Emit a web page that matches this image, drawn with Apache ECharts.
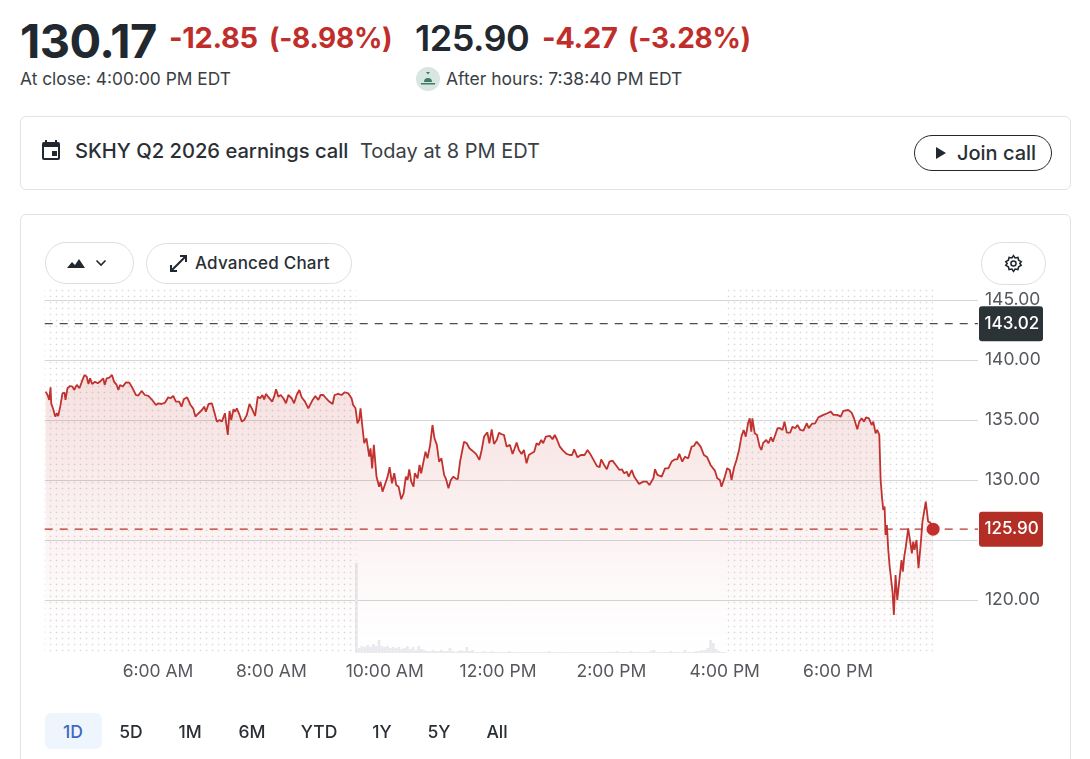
<!DOCTYPE html>
<html><head><meta charset="utf-8">
<style>
html,body{margin:0;padding:0;background:#fff;width:1090px;height:759px;overflow:hidden;font-family:Inter,"Noto Sans",sans-serif;color:#22282f}
.a{position:absolute;white-space:nowrap;line-height:1}
.card{position:absolute;border:1px solid #e3e3e3;border-radius:6px;box-sizing:border-box;background:#fff}
.pill{position:absolute;border:1px solid #dedede;border-radius:22px;box-sizing:border-box;background:#fff}
.red{color:#bf2e2b;font-weight:700;top:23px;font-size:29px;letter-spacing:-.3px}
.par{font-size:28px;top:24px}
#chart{position:absolute;left:0;top:0;width:1090px;height:759px}
.rng{font-size:17.5px;font-weight:500;top:723px;transform:translateX(-50%);color:#2a2f36}
</style>
<script src="https://cdn.jsdelivr.net/npm/echarts@6/dist/echarts.min.js"></script>
</head><body>
<div class="a" style="left:20px;top:17px;font-size:47px;font-weight:700;letter-spacing:-.55px">130.17</div>
<div class="a red" style="left:169px">-12.85</div>
<div class="a red par" style="left:269px">(-8.98%)</div>
<div class="a" style="left:415px;top:20px;font-size:36px;font-weight:600;letter-spacing:-.5px">125.90</div>
<div class="a red" style="left:542px">-4.27</div>
<div class="a red par" style="left:628px">(-3.28%)</div>
<div class="a" style="left:20px;top:70px;font-size:17.35px;color:#3a3f46">At close: 4:00:00 PM EDT</div>
<svg class="a" style="left:416px;top:67px" width="24" height="24" viewBox="0 0 24 24"><circle cx="12" cy="12" r="12" fill="#d8e6e1"/><path d="M5 16h14v1.6H5zM8 15a4 4 0 0 1 8 0z" fill="#3e7a66"/><path d="M10 5h4l-2 2.5z" fill="#3e7a66"/></svg>
<div class="a" style="left:446px;top:70px;font-size:17.5px;color:#3a3f46">After hours: 7:38:40 PM EDT</div>

<div class="card" style="left:20px;top:116px;width:1051px;height:74px"></div>
<svg class="a" style="left:39px;top:138px" width="24" height="24" viewBox="0 0 24 24"><path fill="#22282f" d="M19 4h-1V2h-2v2H8V2H6v2H5a2 2 0 0 0-2 2v14a2 2 0 0 0 2 2h14a2 2 0 0 0 2-2V6a2 2 0 0 0-2-2zm0 16H5V9h14zM13 13h5v5h-5z"/></svg>
<div class="a" style="left:75px;top:141px;font-size:20.15px;font-weight:500;color:#2a2f36">SKHY Q2 2026 earnings call</div>
<div class="a" style="left:360px;top:141px;font-size:20px;color:#3a3f46">Today at 8 PM EDT</div>
<div class="pill" style="left:914px;top:135px;width:138px;height:36px;border-color:#22282f"></div>
<svg class="a" style="left:935px;top:146px" width="12" height="14" viewBox="0 0 12 14"><path d="M1 1l10 6-10 6z" fill="#22282f"/></svg>
<div class="a" style="left:957px;top:143px;font-size:20px;font-weight:500;color:#2a2f36">Join call</div>

<div class="card" style="left:20px;top:214px;width:1051px;height:600px"></div>
<div id="chart"></div>
<div class="pill" style="left:45px;top:242px;width:89px;height:42px"></div>
<svg class="a" style="left:66px;top:256px" width="20" height="14" viewBox="0 0 20 14"><path d="M1 12l5-6 3 3 4-6 6 9z" fill="#22282f"/></svg>
<svg class="a" style="left:95px;top:259px" width="12" height="8" viewBox="0 0 12 8"><path d="M1.5 1.5L6 6l4.5-4.5" fill="none" stroke="#22282f" stroke-width="1.6"/></svg>
<div class="pill" style="left:146px;top:243px;width:206px;height:41px"></div>
<svg class="a" style="left:169px;top:254px" width="19" height="19" viewBox="0 0 19 19"><path d="M11 2h6v6M17 2L2 17M2 11v6h6" fill="none" stroke="#22282f" stroke-width="2"/></svg>
<div class="a" style="left:195px;top:255px;font-size:17px;font-weight:500;letter-spacing:.2px;color:#2a2f36">Advanced Chart</div>
<div class="pill" style="left:981px;top:242px;width:65px;height:43px"></div>
<svg class="a" style="left:1004px;top:254px" width="19" height="19" viewBox="0 0 24 24"><path fill="none" stroke="#22282f" stroke-width="2" d="M12 2l2 3 3.6-.6.9 3.5 3.2 1.8L20 12l1.700 2.300-3.200 1.800-.9 3.500L14 19l-2 3-2-3-3.600.6-.9-3.500-3.200-1.800L4 12 2.300 9.700l3.200-1.800.9-3.500L10 5z"/><circle cx="12" cy="12" r="3.200" fill="none" stroke="#22282f" stroke-width="2"/></svg>

<div class="a" style="left:45px;top:713px;width:57px;height:36px;background:#eff5fc;border-radius:6px"></div>
<div class="a rng" style="left:73px;color:#3d68c4">1D</div>
<div class="a rng" style="left:131px">5D</div>
<div class="a rng" style="left:190px">1M</div>
<div class="a rng" style="left:252px">6M</div>
<div class="a rng" style="left:319px">YTD</div>
<div class="a rng" style="left:382px">1Y</div>
<div class="a rng" style="left:439px">5Y</div>
<div class="a rng" style="left:497px">All</div>
<script>
// minutes after midnight
const preTimes = [241,243,244.8,246.2,246.9,249.3,251.1,252.9,254.3,256.4,
258.8,261,262,264.1,266.9,269.4,271.2,274,276.8,279.3,
282.1,284.5,286.3,288.1,290.2,293.3,296.2,299.3,302.1,303.5,
305.7,308.5,311.3,313.4,316.2,318,319.7,322.6,326.1,329.6,
333.1,336.6,339.1,342.6,346.1,349.7,353.2,357.8,360.2,363.7,
367.3,370.8,373.2,376.1,378.9,382.4,384.9,387.3,390.8,394.4,
397.2,399.6,403,406.5,408.9,410.7,413.5,417,419.5,422.3,
425.1,427.6,430.8,432.2,433.9,435.7,437.5,439.9,441.7,443.4,
446.3,448.7,451.2,454,456.8,459.3,462.8,465.6,468.1,470.5,
472.3,474.4,476.5,478.6,480.8,482.9,485,487.4,489.9,492.7,
495.5,498,501.5,504,506.8,509.6,512.1,515.6,519.1,520.9,
523.7,526.5,529.7,532.1,535,537.8,541.3,544.8,546.9,550.8,
554.3,557.8,561.4,564.9,566.6,569.1,571.2,573,574.4,576.2,
578.3,580.7];
const prePrices = [137.36,137.08,136.67,137.72,136.39,135.83,135.28,135.56,135.33,136.11,
137.22,137.28,136.67,137.64,137.83,137.78,137.5,137.92,137.64,138.19,
138.75,138.61,138.0,138.47,138.0,138.19,138.06,138.25,138.47,137.92,
138.47,138.53,138.75,138.19,137.92,137.5,137.92,137.78,138.14,138.11,
137.64,137.08,137.03,137.42,137.08,137.0,136.72,136.25,136.39,136.33,
136.44,136.89,136.81,137.0,136.53,136.53,136.11,136.72,136.89,136.25,
135.97,135.28,135.56,135.83,136.11,135.69,136.33,136.39,135.69,134.86,
135.0,134.86,135.56,134.72,133.75,135.75,135.0,135.89,135.69,135.97,
135.42,134.86,135.0,135.42,136.33,135.97,135.33,136.94,136.81,137.08,
136.72,137.17,136.94,137.08,136.53,136.94,137.56,136.94,137.08,136.81,
136.39,137.08,136.81,136.39,137.08,137.5,136.89,136.53,135.97,135.89,
136.67,137.0,136.67,137.08,137.08,136.81,136.53,136.33,137.08,137.17,
137.08,137.31,137.22,136.81,136.25,135.97,134.72,135.0,135.97,134.58,
133.06,133.47];
const dayTimes = [583.6,585,586.7,588.5,591.3,594.1,595.5,597.7,600.1,603.1,
605.2,607.7,610.1,612.2,614.7,617.5,620,622.4,624.2,626,
628.1,630.5,631.9,634.8,636.9,638.6,641.1,643.2,645.3,648.1,
650.6,652.7,655.2,657.6,660.1,662.9,665,667.5,670,672.8,
675.2,677.4,679.8,682.6,684,686.9,689.7,691.4,693.9,696.7,
700.2,702.7,705.2,708.7,710.8,713.3,715.7,718.6,721,723.8,
726.3,729.1,732.6,735.4,737.6,739.7,742.1,744.9,747.4,750.2,
752.6,755.5,758.3,760.8,763.2,765.7,767.8,770.6,774.9,777.7,
780.1,782.6,785.4,788.9,792.5,796,798.4,800.6,804.2,807.7,
811.6,814.8,817.6,821.1,824.6,827.5,829.2,832.4,835.2,838,
841.2,844.7,848.6,851.1,853.5,856.3,858.4,861.6,864.1,869.3,
873.9,877.4,880.3,884.5,886.2,888.7,893.3,896.8,900.3,903.8,
907.4,909.8,911.9,915.1,917.9,921.4,925,927.4,930.2,934.5,
938,941.5,945,949.6,952.1,954.9,956.6,960.2,962.6,965.4,
967.2,970,972.5,975.2];
const dayPrices = [131.94,132.64,130.97,132.92,130.28,129.44,129.86,129.03,129.58,130.28,
131.06,129.72,130.56,129.58,129.44,128.39,128.89,130.28,130.0,130.89,
129.86,129.44,130.56,130.14,131.25,130.56,131.53,132.36,131.8,132.92,
134.58,133.47,132.92,131.53,131.8,130.42,130.06,129.31,130.0,130.28,
130.11,130.06,131.53,132.64,133.19,133.06,132.64,132.5,132.36,132.17,
131.67,132.5,133.61,133.97,133.06,134.22,133.0,133.33,133.94,133.81,
133.75,132.78,132.92,132.17,132.64,133.11,132.5,132.17,132.5,131.39,
132.08,132.22,132.36,133.06,132.92,133.33,133.06,133.61,133.67,133.39,
133.75,133.33,132.78,132.44,132.17,132.08,132.08,132.55,131.89,132.08,
132.08,132.5,132.17,131.67,131.17,131.06,131.72,131.25,130.89,131.53,
131.61,131.25,130.83,130.89,130.56,130.69,130.28,130.83,130.28,129.67,
129.86,129.86,129.58,130.14,130.89,130.42,130.28,130.97,130.97,131.53,
131.72,131.72,132.17,131.53,131.94,131.8,132.78,132.83,133.19,132.78,
132.08,131.89,131.25,130.78,130.14,130.0,129.44,130.28,130.97,130.83,
130.0,131.06,131.67,132.5];
const afterTimes = [977.7,980.1,982.3,984.7,986.5,988.2,989.3,991.8,994.2,997,
998.8,1000.6,1004,1006.4,1008.9,1011,1013.5,1015.9,1018.7,1021.2,
1023.3,1025.8,1029.3,1031.8,1034.6,1037.1,1039.9,1043.4,1046.9,1049,
1052.2,1055.7,1059.2,1064.5,1068.7,1072.3,1075.1,1079.3,1082.8,1085.6,
1090.9,1094.4,1096.9,1100.4,1102.5,1105,1107.5,1109.6,1112.7,1115.6,
1117.3,1119.8,1121.5,1123.7,1125.1,1126.5,1127.9,1129.3,1130.3,1131.7,
1133.2,1134.6,1135.6,1137.7,1139.1,1140.9,1142.7,1144.1,1147.2,1148.6,
1150.1,1151.8,1154.3,1156.7,1158.2,1159.6,1161,1163.1,1165.2,1167.3,
1169.4,1171.2,1172.9,1175.4,1177.7,1180.7];
const afterPrices = [133.61,134.17,133.61,134.72,135.14,134.03,135.14,133.89,133.75,132.78,
132.5,133.06,133.33,133.06,133.56,133.19,133.75,134.31,134.31,134.17,
134.86,133.94,133.94,134.44,134.31,134.58,134.17,134.11,134.72,134.31,
134.67,134.72,135.22,135.42,135.56,135.69,135.42,135.42,135.28,135.75,
135.83,135.61,135.14,134.22,134.86,135.14,134.86,135.22,135.14,134.58,
134.86,133.89,134.17,133.75,130.0,128.61,127.5,127.78,125.42,126.25,
124.17,122.83,122.78,120.69,118.75,122.08,120.0,120.0,123.33,122.36,
123.61,124.44,125.97,124.72,123.89,124.86,124.17,125.0,122.64,124.44,
126.53,126.67,128.19,126.53,126.45,125.90];
// volume, one value every 3 minutes from the 9:30 open
const volumeStart = 570;
const volumeStep = 3;
const volumes = [900,50,70,60,80,60,90,70,130,70,
60,70,50,60,50,60,40,50,70,40,
60,30,70,40,30,20,20,30,20,20,
30,20,20,50,20,10,20,30,20,60,
20,30,10,10,10,20,10,10,20,10,
10,10,10,10,20,10,10,10,10,10,
10,10,10,10,10,10,10,10,20,10,
10,10,10,10,10,10,10,10,10,10,
10,10,10,10,10,10,10,10,10,10,
10,10,20,10,10,10,10,20,10,10,
10,10,10,10,20,30,10,10,10,10,
10,20,10,10,10,10,30,10,10,10,
20,20,30,30,50,130,100,40,20,10,10];
const priceLabelTicks = [120,130,135,140,145];
const priceGridTicks = [120,125,130,135,140,145];
const timeTicks = [360,480,600,720,840,960,1080];
const timeTickLabels = ['6:00 AM','8:00 AM','10:00 AM','12:00 PM','2:00 PM','4:00 PM','6:00 PM'];
const previousClose = 143.02;
const lastPrice = 125.90;
const preSession = [240,570];
const postSession = [960,1180.7];
const axisStart = 240;
const axisEnd = 1228.2;

const allTimes = preTimes.concat(dayTimes, afterTimes);
const allPrices = prePrices.concat(dayPrices, afterPrices);
const priceData = allTimes.map((t,i)=>[t,allPrices[i]]);
const volumeData = volumes.map((v,i)=>[volumeStart+volumeStep*i,v]);

const dot = document.createElement('canvas');
dot.width = 6; dot.height = 6;
const dc = dot.getContext('2d');
dc.fillStyle = 'rgba(120,120,125,0.26)';
dc.fillRect(2,2,1,1);
dc.fillStyle = 'rgba(120,120,125,0.08)';
dc.fillRect(3,2,1,1); dc.fillRect(2,3,1,1); dc.fillRect(1,2,1,1); dc.fillRect(2,1,1,1);

function refLine(name,value,lineColor,badgeColor){
  return {type:'line',name:name,data:[[axisStart,value],[axisEnd,value]],symbol:'none',showSymbol:false,silent:true,z:6,
    lineStyle:{color:lineColor,type:[8,7],width:1.2},
    endLabel:{show:true,distance:1,formatter:p=>p.value[1].toFixed(2),color:'#fff',fontFamily:'Inter',fontSize:17,fontWeight:500,
      backgroundColor:badgeColor,borderRadius:3,width:53,height:35,lineHeight:35,align:'left',padding:[0,5.5]}};
}
const chart = echarts.init(document.getElementById('chart'),null,{renderer:'canvas'});
chart.setOption({
  animation:false,
  backgroundColor:'transparent',
  grid:{left:44.7,right:112,top:287,bottom:106,containLabel:false},
  xAxis:{type:'value',min:axisStart,max:axisEnd,
    axisLine:{show:false},splitLine:{show:false},
    axisTick:{show:false,customValues:timeTicks},
    axisLabel:{customValues:timeTicks,margin:10,color:'#55585e',fontFamily:'Inter',fontSize:17.5,
      formatter:v=>timeTickLabels[timeTicks.indexOf(v)]}},
  yAxis:[{type:'value',position:'right',min:115.58,max:146.08,
    axisLine:{show:false},
    axisTick:{show:false,customValues:priceGridTicks},
    splitLine:{show:true,lineStyle:{color:'#d5d6d9',width:1}},
    axisLabel:{customValues:priceLabelTicks,margin:7,color:'#55585e',fontFamily:'Inter',fontSize:17.5,formatter:v=>v.toFixed(2)}},
   {type:'value',min:0,max:3660,show:false}],
  series:[
   {type:'bar',name:'Volume',xAxisIndex:0,yAxisIndex:1,data:volumeData,barWidth:2.8,itemStyle:{color:'#e9eaee'},silent:true,z:1},
   {type:'line',name:'Price',data:priceData,showSymbol:false,symbol:'none',smooth:false,z:3,
    lineStyle:{color:'#c1312d',width:1.8},
    areaStyle:{origin:'start',color:new echarts.graphic.LinearGradient(0,0,0,1,[
      {offset:0,color:'rgba(196,50,46,0.22)'},{offset:0.85,color:'rgba(196,50,46,0.02)'},{offset:1,color:'rgba(196,50,46,0)'}])},
    markArea:{silent:true,z:4,itemStyle:{color:{image:dot,repeat:'repeat'}},
      data:[[{xAxis:preSession[0]},{xAxis:preSession[1]}],[{xAxis:postSession[0]},{xAxis:postSession[1]}]]}},
   refLine('Previous close',previousClose,'#4a4e52','#2b3337'),
   refLine('Last price',lastPrice,'#bb312d','#b32f26'),
   {type:'scatter',name:'Last',data:[priceData[priceData.length-1]],symbolSize:13,itemStyle:{color:'#c22f2c',opacity:1},z:7,silent:true}
  ]
});
</script>
</body></html>
